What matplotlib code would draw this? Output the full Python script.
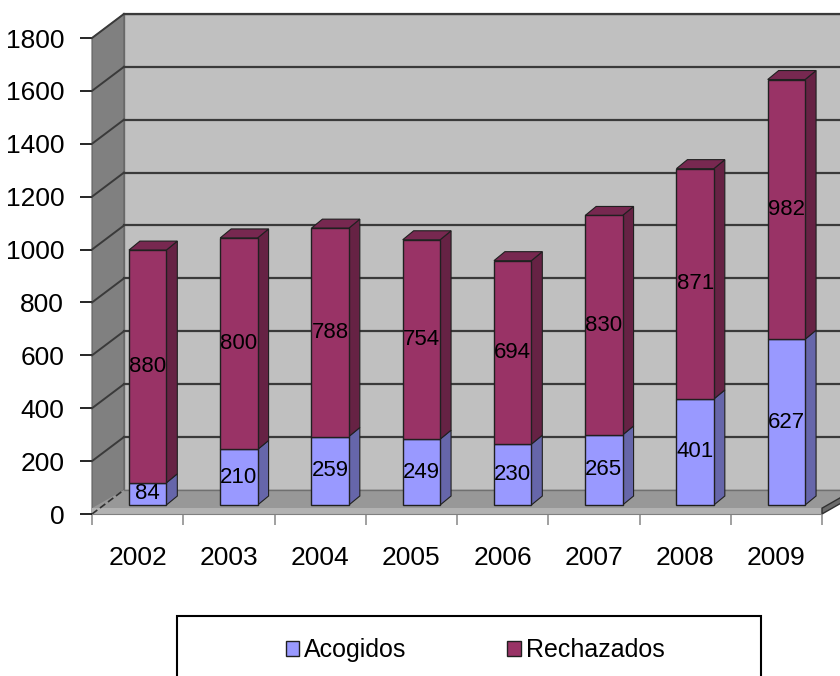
import numpy as np
import matplotlib.pyplot as plt
from matplotlib.patches import Polygon, Rectangle

plt.rcParams['font.family'] = ['Liberation Sans', 'DejaVu Sans']

# datos
years = ['2002', '2003', '2004', '2005', '2006', '2007', '2008', '2009']
acogidos = np.array([84, 210, 259, 249, 230, 265, 401, 627])
rechazados = np.array([880, 800, 788, 754, 694, 830, 871, 982])
yticks = np.arange(0, 2000, 200)

# colores (estilo Excel 3D)
col_acog = '#9999FF'
col_acog_side = '#6666AA'
col_acog_top = '#7C7CD0'
col_rech = '#993366'
col_rech_side = '#662244'
col_rech_top = '#772850'

# profundidad del "3D" en unidades de datos
DX, DY = 0.35, 91      # pared del fondo
BDX, BDY = 0.12, 34    # profundidad de cada barra
XOFF, ZOFF = 0.11, 34  # desplazamiento de la cara frontal de las barras
W = 0.41
FT = 22                # grosor del suelo

fig = plt.figure(figsize=(8.4, 6.76), dpi=100)
ax = fig.add_axes([92/840, 1-514/676, 730/840, 476/676])
ax.set_xlim(-0.5, 7.5)
ax.set_ylim(0, 1800)
ax.patch.set_visible(False)
for s in ['top', 'right', 'left']:
    ax.spines[s].set_visible(False)
ax.spines['bottom'].set_color('#808080')
ax.spines['bottom'].set_zorder(6)

x0, x1 = -0.5, 7.5
ymax = 1800

# pared del fondo
ax.add_patch(Polygon([(x0+DX, DY), (x1+DX, DY), (x1+DX, ymax+DY), (x0+DX, ymax+DY)],
                     closed=True, fc='#C0C0C0', ec='#707070', lw=1, clip_on=False, zorder=1))
# pared lateral
ax.add_patch(Polygon([(x0, 0), (x0+DX, DY), (x0+DX, ymax+DY), (x0, ymax)],
                     closed=True, fc='#808080', ec='#606060', lw=0.8, clip_on=False, zorder=1))
# lineas de division
for v in yticks[1:]:
    ax.plot([x0+DX, x1+DX], [v+DY, v+DY], color='#3a3a3a', lw=1.6, clip_on=False, zorder=2)
    ax.plot([x0, x0+DX], [v, v+DY], color='#3a3a3a', lw=1.4, clip_on=False, zorder=2)

# suelo
ax.add_patch(Polygon([(x0, FT), (x1, FT), (x1+DX, DY), (x0+DX, DY)],
                     closed=True, fc='#989898', ec='none', clip_on=False, zorder=3))
ax.add_patch(Polygon([(x0, 0), (x1, 0), (x1, FT), (x0, FT)],
                     closed=True, fc='#B2B2B2', ec='none', clip_on=False, zorder=3))
ax.add_patch(Polygon([(x1, 0), (x1+DX, DY-FT), (x1+DX, DY), (x1, FT)],
                     closed=True, fc='#6a6a6a', ec='#303030', lw=1, clip_on=False, zorder=3))
ax.plot([x0, x0+DX], [0, DY], color='#303030', lw=1.2, ls=(0, (4, 2)), clip_on=False, zorder=3)
ax.plot([x0+DX, x1+DX], [DY, DY], color='#707070', lw=1, clip_on=False, zorder=3)

# barras
xs = np.arange(len(years)) + XOFF
b1 = ax.bar(xs, acogidos, width=W, bottom=ZOFF, color=col_acog, edgecolor='#202020',
            lw=1, zorder=5, clip_on=False)
b2 = ax.bar(xs, rechazados, width=W, bottom=ZOFF + acogidos, color=col_rech,
            edgecolor='#202020', lw=1, zorder=5, clip_on=False)

for x, a, r in zip(xs, acogidos, rechazados):
    xr = x + W/2
    xl = x - W/2
    ya = ZOFF + a
    yt = ya + r
    ax.add_patch(Polygon([(xr, ZOFF), (xr+BDX, ZOFF+BDY), (xr+BDX, ya+BDY), (xr, ya)],
                         closed=True, fc=col_acog_side, ec='#202020', lw=0.8, zorder=4, clip_on=False))
    ax.add_patch(Polygon([(xr, ya), (xr+BDX, ya+BDY), (xr+BDX, yt+BDY), (xr, yt)],
                         closed=True, fc=col_rech_side, ec='#202020', lw=0.8, zorder=4, clip_on=False))
    ax.add_patch(Polygon([(xl, yt), (xr, yt), (xr+BDX, yt+BDY), (xl+BDX, yt+BDY)],
                         closed=True, fc=col_rech_top, ec='#202020', lw=0.8, zorder=4, clip_on=False))
    ax.text(x, ZOFF + a/2, str(a), ha='center', va='center', fontsize=16, zorder=7)
    ax.text(x, ya + r/2, str(r), ha='center', va='center', fontsize=16, zorder=7)

# ejes
ax.set_yticks(yticks)
ax.set_yticklabels([str(v) for v in yticks], fontsize=19)
ax.tick_params(axis='y', length=9, width=1.2, color='black', pad=11)
ax.set_xticks(np.arange(len(years)))
ax.set_xticklabels(years, fontsize=19)
ax.set_xticks(np.arange(-0.5, 8, 1), minor=True)
ax.tick_params(axis='x', which='major', length=0, pad=23)
ax.tick_params(axis='x', which='minor', length=8, width=1.2, color='#909090')

# leyenda
fig.patches.append(Rectangle((177/840, -0.05), (761-177)/840, (676-616)/676 + 0.05,
                             transform=fig.transFigure, fc='white', ec='black', lw=1.5))
fig.legend([b1, b2], ['Acogidos', 'Rechazados'], loc='center',
           bbox_to_anchor=(475/840, 1-650/676), ncol=2, frameon=False, fontsize=18,
           handlelength=0.55, handleheight=0.55, handletextpad=0.2, columnspacing=4.0)

fig.savefig('out.png', dpi=100)
